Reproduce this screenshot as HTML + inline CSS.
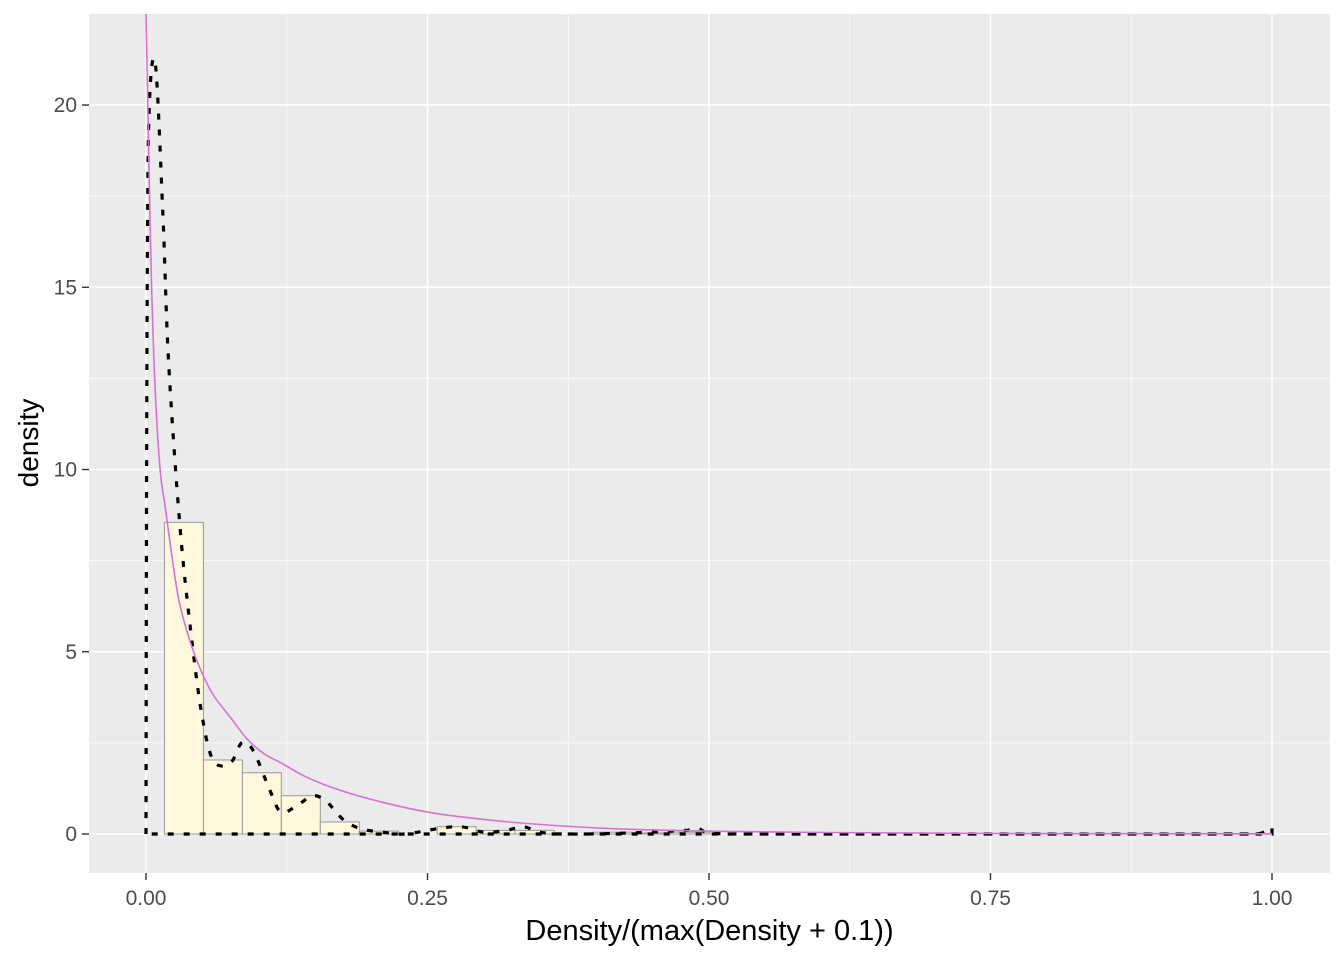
<!DOCTYPE html>
<html><head><meta charset="utf-8"><style>
html,body{margin:0;padding:0;background:#fff;}
svg text{font-family:"Liberation Sans",Arial,sans-serif;}
</style></head><body>
<svg id="chart" width="1344" height="960" xmlns="http://www.w3.org/2000/svg"></svg>
<script>
const binStarts = [0.0164,0.0510,0.0856,0.1202,0.1548,0.1894,0.2240,0.2586,0.2932,0.3278,0.3624,0.3970,0.4316,0.4662];
const binWidth = 0.0346;
const binHeights = [8.55,2.03,1.68,1.05,0.33,0.08,0.0,0.2,0.1,0.1,0.0,0.05,0.03,0.05];
const fitX = [0,0.001,0.0025,0.005,0.008,0.0125,0.017,0.02,0.025,0.03,0.04,0.05,0.06,0.075,0.09,0.105,0.12,0.14,0.163,0.2,0.25,0.3,0.35,0.42,0.5,0.6,0.75,1.0];
const fitY = [22.5,21,18.5,15,12.3,10,9.0,8.3,7.2,6.3,5.2,4.4,3.8,3.2,2.6,2.2,1.95,1.6,1.3,0.95,0.6,0.4,0.26,0.14,0.08,0.04,0.015,0.005];
const densX = [0,0.0005,0.002,0.008,0.015,0.02,0.03,0.04,0.05,0.06,0.075,0.085,0.095,0.11,0.12,0.135,0.148,0.16,0.175,0.19,0.21,0.23,0.26,0.28,0.30,0.32,0.335,0.35,0.37,0.42,0.48,0.49,0.5,0.6,0.98,0.99,1.0];
const densY = [0,10,19,21.2,17,13,8.5,5.5,3.2,2.0,1.95,2.5,2.3,1.2,0.6,0.8,1.05,0.9,0.4,0.15,0.05,0,0.15,0.2,0.05,0.1,0.2,0.05,0,0.02,0.1,0.15,0.02,0,0,0.02,0.18];
const xTicks = [0,0.25,0.5,0.75,1.0];
const xTickLabels = ["0.00","0.25","0.50","0.75","1.00"];
const yTicks = [0,5,10,15,20];
const yTickLabels = ["0","5","10","15","20"];

const NS="http://www.w3.org/2000/svg";
const svg=document.getElementById('chart');
const P={l:89,r:1330,t:14,b:873};
const X=v=>146+v*1126;
const Y=v=>834-v*36.45;
function mk(tag,attrs,parent){const e=document.createElementNS(NS,tag);for(const k in attrs)e.setAttribute(k,attrs[k]);(parent||svg).appendChild(e);return e;}
function smooth(pts){let d='M'+pts[0][0].toFixed(1)+','+pts[0][1].toFixed(1);
for(let i=0;i<pts.length-1;i++){const p0=pts[Math.max(0,i-1)],p1=pts[i],p2=pts[i+1],p3=pts[Math.min(pts.length-1,i+2)];
const w=p2[0]-p1[0];
let c1=[p1[0]+(p2[0]-p0[0])/6,p1[1]+(p2[1]-p0[1])/6],c2=[p2[0]-(p3[0]-p1[0])/6,p2[1]-(p3[1]-p1[1])/6];
c1[0]=Math.min(Math.max(c1[0],p1[0]),p1[0]+w/2);c2[0]=Math.max(Math.min(c2[0],p2[0]),p2[0]-w/2);
d+=' C'+c1[0].toFixed(1)+','+c1[1].toFixed(1)+' '+c2[0].toFixed(1)+','+c2[1].toFixed(1)+' '+p2[0].toFixed(1)+','+p2[1].toFixed(1);}
return d;}

const bg=mk('rect',{x:P.l,y:P.t,width:P.r-P.l,height:P.b-P.t,fill:'#EBEBEB'});


for(let i=0;i<xTicks.length-1;i++){const v=(xTicks[i]+xTicks[i+1])/2;const l=mk('line',{x1:X(v),x2:X(v),y1:P.t,y2:P.b,stroke:'#fff','stroke-width':0.7});

}
for(let i=0;i<yTicks.length;i++){const v=yTicks[i]+2.5;if(Y(v)<P.t)continue;const l=mk('line',{x1:P.l,x2:P.r,y1:Y(v),y2:Y(v),stroke:'#fff','stroke-width':0.7});

}
xTicks.forEach((v,i)=>{const l=mk('line',{x1:X(v),x2:X(v),y1:P.t,y2:P.b,stroke:'#fff','stroke-width':1.4});


const t=mk('line',{x1:X(v),x2:X(v),y1:P.b,y2:P.b+7,stroke:'#333','stroke-width':1.4});


const tx=mk('text',{x:X(v),y:905,'text-anchor':'middle','font-size':21,fill:'#4D4D4D'});tx.textContent=xTickLabels[i];

});
yTicks.forEach((v,i)=>{const l=mk('line',{x1:P.l,x2:P.r,y1:Y(v),y2:Y(v),stroke:'#fff','stroke-width':1.4});


const t=mk('line',{x1:P.l-7,x2:P.l,y1:Y(v),y2:Y(v),stroke:'#333','stroke-width':1.4});


const tx=mk('text',{x:P.l-12,y:Y(v)+7,'text-anchor':'end','font-size':21,fill:'#4D4D4D'});tx.textContent=yTickLabels[i];

});
binStarts.forEach((s,i)=>{const h=binHeights[i];const r=mk('rect',{x:X(s),y:Y(h),width:X(s+binWidth)-X(s),height:Y(0)-Y(h),fill:'#FFF8DC',stroke:'#999','stroke-width':1});

});
const dpts=densX.map((x,i)=>[X(x),Y(densY[i])]);
let d=smooth(dpts)+' L'+X(1)+','+Y(0)+' L'+X(0)+','+Y(0)+' Z';
const dp=mk('path',{d:d,fill:'none',stroke:'#000','stroke-width':3.2,'stroke-dasharray':'6 10'});


const fpts=fitX.map((x,i)=>[X(x),Y(fitY[i])]);
const fp=mk('path',{d:smooth(fpts),fill:'none',stroke:'#DA70D6','stroke-width':1.6});


const xt=mk('text',{x:(P.l+P.r)/2,y:940,'text-anchor':'middle','font-size':29,fill:'#000'});xt.textContent='Density/(max(Density + 0.1))';


const yt=mk('text',{x:0,y:0,'text-anchor':'middle','font-size':28,fill:'#000',transform:'translate(38,443) rotate(-90)'});yt.textContent='density';


</script>
</body></html>
